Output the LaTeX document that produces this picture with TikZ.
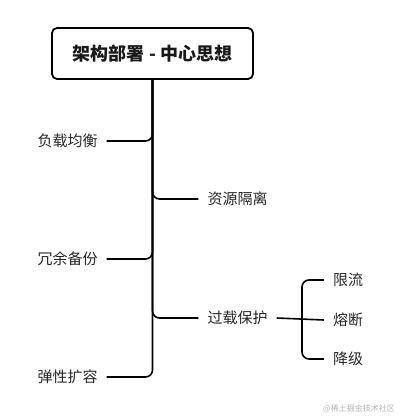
\documentclass[tikz,border=0pt]{standalone}
\usepackage{fontspec}
\setmainfont{Noto Sans CJK SC}
\usepackage{tikz}
\usetikzlibrary{positioning}
\tikzstyle{rootbox} = [draw, line width=1.8pt, rounded corners=5pt, minimum width=201pt, minimum height=51pt, inner sep=0pt, font=\fontsize{18pt}{22pt}\selectfont\bfseries, text=black!90]
\tikzstyle{leaf}    = [inner xsep=9pt, inner ysep=2pt, font=\fontsize{15pt}{18pt}\selectfont, text=black!85]
\tikzstyle{edge}    = [line width=1.6pt, rounded corners=7pt]

\begin{document}
\begin{tikzpicture}[x=1pt, y=-1pt]
\useasboundingbox (0,0) rectangle (400,420);

\node[rootbox] (root) at (152.5,53.5) {架构部署 - 中心思想};

\node[leaf] (B1) at (67.5,141) {负载均衡};
\node[leaf] (B2) at (237.5,199) {资源隔离};
\node[leaf] (B3) at (67.5,259) {冗余备份};
\node[leaf] (B4) at (237.5,318) {过载保护};
\node[leaf] (B5) at (67.5,377) {弹性扩容};

\coordinate (split) at (302,320);
\node[leaf] (C1) at (348,280) {限流};
\node[leaf] (C2) at (348,320) {熔断};
\node[leaf] (C3) at (348,359) {降级};

\draw[edge] (root.south) |- (B5.east);
\draw[edge] (root.south) |- (B1.east);
\draw[edge] (root.south) |- (B2.west);
\draw[edge] (root.south) |- (B3.east);
\draw[edge] (root.south) |- (B4.west);

\draw[edge] (B4.east) -- (C2.west);
\draw[edge] (C1.west) -| (split) |- (C3.west);

\node[text=black!30, font=\fontsize{8pt}{9pt}\selectfont] (mark) at (359,409) {@稀土掘金技术社区};

\end{tikzpicture}
\end{document}
